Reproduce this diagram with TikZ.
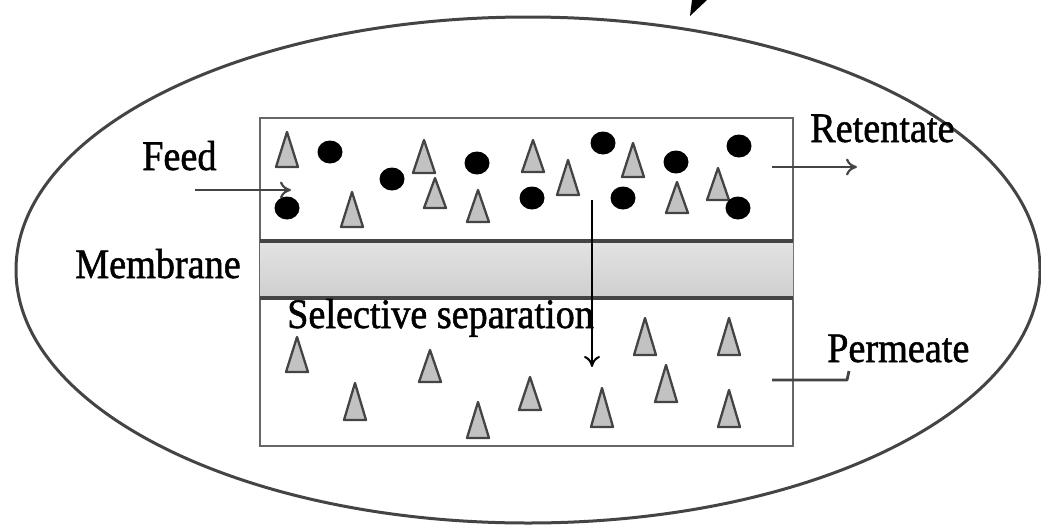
\documentclass[tikz,border=0pt]{standalone}
\usepackage{fontspec}
\setmainfont{Liberation Serif}[FakeStretch=0.91, FakeBold=1.2]
\usetikzlibrary{arrows.meta}

\definecolor{edge}{HTML}{444444}
\definecolor{wall}{HTML}{666666}
\definecolor{grainfill}{HTML}{C2C2C2}

\tikzset{
  label text/.style={font=\fontsize{42}{46}\selectfont, inner sep=0pt, anchor=base west},
  flow/.style={draw=edge, line width=2.8pt, -{To[length=11pt,width=17pt,line width=2.2pt]}},
  grain/.style={draw=edge, fill=grainfill, line width=2.3pt, line join=round},
  blob/.style={fill=black},
}

% gray cone-shaped particle: apex x, apex y, base y
\newcommand\cone[3]{\draw[grain] (#1-11,#3) -- (#1,#2) -- (#1+11,#3) -- cycle;}
% black round particle
\newcommand\blob[2]{\fill[blob] (#1,#2) ellipse [x radius=12.5, y radius=11.5];}

\begin{document}
\begin{tikzpicture}[x=1pt, y=-1pt]
  \useasboundingbox (0,0) rectangle (1041,530);

  % outer envelope
  \draw[edge, line width=3pt] (528,270) ellipse [x radius=512, y radius=253];
  % tip of the pointer entering from above
  \fill[black] (690,16) -- (692,0) -- (707,0) -- cycle;

  % module housing
  \draw[wall, line width=2.6pt] (260,118) rectangle (793,446);

  % membrane layer
  \shade[top color=gray!22, bottom color=gray!38] (260,241) rectangle (793,298);
  \draw[edge, line width=3.5pt] (260,241) -- (793,241);
  \draw[edge, line width=3.5pt] (260,298) -- (793,298);

  % feed side particles
  \cone{287}{132}{167}
  \cone{424}{140}{173}
  \cone{435}{178}{208}
  \cone{352}{192}{227}
  \cone{478}{190}{222}
  \cone{533}{140}{172}
  \cone{568}{160}{195}
  \cone{633}{143}{177}
  \cone{677}{182}{213}
  \cone{718}{168}{200}
  \blob{330}{152}
  \blob{392}{179}
  \blob{477}{163}
  \blob{287}{208}
  \blob{532}{198}
  \blob{603}{143}
  \blob{623}{198}
  \blob{676}{162}
  \blob{739}{146}
  \blob{738}{208}

  % permeate side particles
  \cone{297}{337}{372}
  \cone{355}{383}{420}
  \cone{430}{350}{382}
  \cone{478}{402}{438}
  \cone{530}{377}{410}
  \cone{602}{388}{427}
  \cone{645}{318}{355}
  \cone{666}{365}{402}
  \cone{729}{318}{355}
  \cone{729}{390}{427}

  % labels
  \node[label text] (feed) at (142,170) {Feed};
  \node[label text] (membrane) at (75,278) {Membrane};
  \node[label text] (retentate) at (810,142) {Retentate};
  \node[label text] (permeate) at (827,362) {Permeate};
  \node[label text] (selective) at (287,328) {Selective separation};

  % flow connectors
  \coordinate (feedin) at (195,190);
  \coordinate (feedout) at (291,190);
  \coordinate (retin) at (772,167);
  \coordinate (retout) at (857,167);
  \coordinate (permin) at (772,380);
  \coordinate (permout) at (847,380);
  \coordinate (permtip) at (849,371);
  \coordinate (septop) at (592,200);
  \coordinate (sepbot) at (592,367);

  \draw[flow] (feedin) -- (feedout);
  \draw[flow] (retin) -- (retout);
  \draw[edge, line width=2.8pt, line join=round] (permin) -- (permout) -- (permtip);
  \draw[black, line width=2pt, -{To[length=11pt,width=16pt,line width=2pt]}] (septop) -- (sepbot);
\end{tikzpicture}
\end{document}
